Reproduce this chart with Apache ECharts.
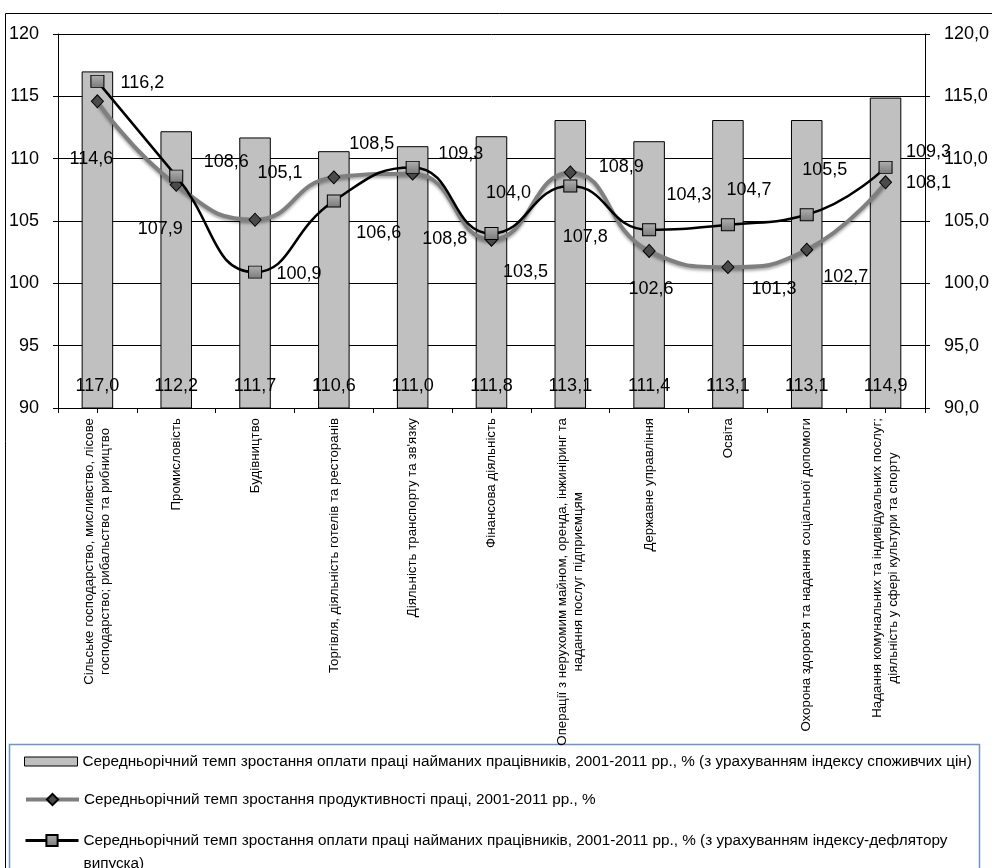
<!DOCTYPE html>
<html>
<head>
<meta charset="utf-8">
<script src="https://cdn.jsdelivr.net/npm/echarts@6/dist/echarts.min.js"></script>
<style>
html,body{margin:0;padding:0;background:#fff;}
#c{width:992px;height:868px;}
</style>
</head>
<body>
<div id="c"></div>
<script>
// ---- data ----
var categories = [
  "Сільське господарство, мисливство, лісове\nгосподарство; рибальство та рибництво",
  "Промисловість",
  "Будівництво",
  "Торгівля, діяльність готелів та ресторанів",
  "Діяльність транспорту та зв'язку",
  "Фінансова діяльність",
  "Операції з нерухомим майном, оренда, інжиніринг та\nнадання послуг підприємцям",
  "Державне управління",
  "Освіта",
  "Охорона здоров'я та надання соціальної допомоги",
  "Надання комунальних та індивідуальних послуг;\nдіяльність у сфері культури та спорту"
];
var wageCpi = [117.0, 112.2, 111.7, 110.6, 111.0, 111.8, 113.1, 111.4, 113.1, 113.1, 114.9];
var productivity = [114.6, 107.9, 105.1, 108.5, 108.8, 103.5, 108.9, 102.6, 101.3, 102.7, 108.1];
var wageDeflator = [116.2, 108.6, 100.9, 106.6, 109.3, 104.0, 107.8, 104.3, 104.7, 105.5, 109.3];
var yTicks = [90, 95, 100, 105, 110, 115, 120];
var seriesNames = [
  "Середньорічний темп зростання оплати праці найманих працівників, 2001-2011 рр., % (з урахуванням індексу споживчих цін)",
  "Середньорічний темп зростання продуктивності праці, 2001-2011 рр., %",
  "Середньорічний темп зростання оплати праці найманих працівників, 2001-2011 рр., % (з урахуванням індексу-дефлятору\nвипуска)"
];
// label nudges (pixels, relative to marker centre)
var prodLabelNudge = [[-6,58],[-16,44],[25,-47],[38,-33],[32,65],[34,32],[51,-5],[2,38],[46,22],[39,27],[43,1]];
var deflLabelNudge = [[45,2],[50,-14],[44,2],[45,32],[48,-13],[17,-40],[15,51],[40,-35],[21,-35],[18,-45],[43,-15]];

// ---- chart ----
var FONT = '"Liberation Sans", Arial, sans-serif';
function fmt1(v){ return (typeof v === 'object' ? v.value : v).toFixed(1).replace('.', ','); }

var chart = echarts.init(document.getElementById('c'), null, {renderer: 'canvas'});

function withNudge(values, nudges){
  return values.map(function(v, i){
    return {value: v, label: {offset: nudges[i]}};
  });
}

var option = {
  animation: false,
  backgroundColor: '#fff',
  textStyle: {fontFamily: FONT, color: '#000'},
  grid: {left: 58, right: 64, top: 34, bottom: 460, containLabel: false},
  xAxis: [{
    type: 'category',
    data: categories,
    boundaryGap: true,
    axisLine: {show: true, lineStyle: {color: '#000', width: 1}},
    axisTick: {show: true, length: 5, inside: false, lineStyle: {color: '#000'}},
    axisLabel: {
      rotate: 90, margin: 10, interval: 0,
      fontFamily: FONT, fontSize: 13.3, color: '#000', lineHeight: 16,
      formatter: function(v){
        return v.split('\n').map(function(s){ return '{c|' + s + '}'; }).join('\n');
      },
      rich: {c: {align: 'center', fontFamily: FONT, fontSize: 13.3, lineHeight: 16, color: '#000'}}
    },
    splitLine: {show: false}
  }, {
    type: 'category',
    data: categories,
    position: 'bottom',
    axisLine: {show: false},
    axisTick: {show: true, alignWithLabel: true, length: 5, lineStyle: {color: '#000'}},
    axisLabel: {show: false},
    splitLine: {show: false}
  }],
  yAxis: [{
    type: 'value', min: yTicks[0], max: yTicks[yTicks.length-1], interval: 5,
    axisLine: {show: true, lineStyle: {color: '#000', width: 1}},
    axisTick: {show: true, length: 5, lineStyle: {color: '#000'}},
    axisLabel: {margin: 19, fontFamily: FONT, fontSize: 18, color: '#000'},
    splitLine: {show: true, lineStyle: {color: '#000', width: 1, type: 'solid'}}
  }, {
    type: 'value', min: yTicks[0], max: yTicks[yTicks.length-1], interval: 5, position: 'right',
    axisLine: {show: true, lineStyle: {color: '#000', width: 1}},
    axisTick: {show: true, length: 5, lineStyle: {color: '#000'}},
    axisLabel: {margin: 19, fontFamily: FONT, fontSize: 18, color: '#000',
      formatter: function(v){ return v.toFixed(1).replace('.', ','); }},
    splitLine: {show: false}
  }],
  legend: [{
    data: [{name: seriesNames[0], icon: 'rect'}],
    left: 24, top: 754, padding: 0,
    itemWidth: 53, itemHeight: 9,
    itemStyle: {borderWidth: 1, borderColor: '#000', color: '#c0c0c0'},
    textStyle: {fontFamily: FONT, fontSize: 15.3, color: '#000'}
  }, {
    data: [seriesNames[1]],
    left: 24, top: 792, padding: 0,
    itemWidth: 53, itemHeight: 14,
    lineStyle: {width: 4, color: '#7f7f7f'},
    textStyle: {fontFamily: FONT, fontSize: 15.3, color: '#000'}
  }, {
    data: [seriesNames[2]],
    left: 24, top: 806, padding: 0,
    itemWidth: 53, itemHeight: 14,
    lineStyle: {width: 3, color: '#000'},
    formatter: function(n){ return ' \n' + n; },
    textStyle: {fontFamily: FONT, fontSize: 15.3, color: '#000', lineHeight: 23}
  }],
  series: [{
    name: seriesNames[0],
    type: 'bar',
    xAxisIndex: 0, yAxisIndex: 0,
    data: wageCpi,
    barWidth: '40%',
    itemStyle: {color: '#c0c0c0', borderColor: '#000', borderWidth: 1},
    label: {show: true, position: 'insideBottom', distance: 13, fontFamily: FONT, fontSize: 18, color: '#000',
      formatter: function(p){ return fmt1(p.value); }},
    z: 2
  }, {
    name: seriesNames[1],
    type: 'line',
    yAxisIndex: 0,
    data: withNudge(productivity, prodLabelNudge),
    smooth: 0.5,
    symbol: 'diamond', symbolSize: [12, 13],
    lineStyle: {color: '#7f7f7f', width: 4, shadowColor: 'rgba(0,0,0,0.35)', shadowBlur: 3, shadowOffsetY: 2},
    itemStyle: {color: '#4a4a4a', borderColor: '#000', borderWidth: 1},
    label: {show: true, position: 'inside', fontFamily: FONT, fontSize: 18, color: '#000',
      formatter: function(p){ return fmt1(p.value); }},
    z: 3
  }, {
    name: seriesNames[2],
    type: 'line',
    yAxisIndex: 0,
    data: withNudge(wageDeflator, deflLabelNudge),
    smooth: 0.5,
    symbol: 'rect', symbolSize: [13, 12],
    lineStyle: {color: '#000', width: 2.5},
    itemStyle: {color: {type: 'linear', x: 0, y: 0, x2: 0, y2: 1,
      colorStops: [{offset: 0, color: '#b0b0b0'}, {offset: 1, color: '#7a7a7a'}]},
      borderColor: '#000', borderWidth: 1},
    label: {show: true, position: 'inside', fontFamily: FONT, fontSize: 18, color: '#000',
      formatter: function(p){ return fmt1(p.value); }},
    z: 4
  }],
  graphic: [{
    type: 'rect', silent: true, z: -1,
    shape: {x: 5.5, y: 13.5, width: 1100, height: 1000},
    style: {fill: null, stroke: '#000', lineWidth: 1}
  }, {
    type: 'rect', silent: true, z: -1,
    shape: {x: 9.5, y: 744.5, width: 970, height: 200},
    style: {fill: null, stroke: '#6d93c8', lineWidth: 1.5}
  }]
};
chart.setOption(option);
</script>
</body>
</html>
